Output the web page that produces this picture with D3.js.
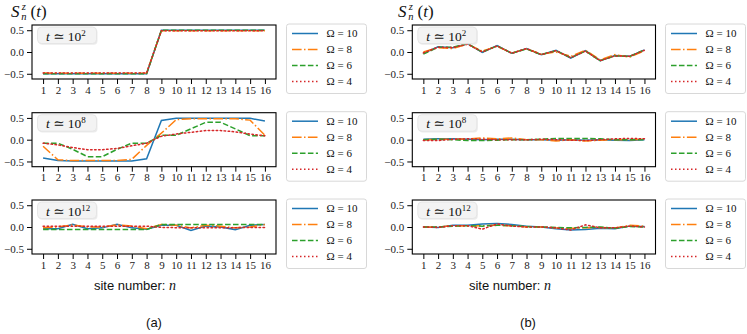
<!DOCTYPE html>
<html><head><meta charset="utf-8">
<script src="https://cdn.jsdelivr.net/npm/d3@7"></script>
<style>
body{margin:0;background:#fff;}
svg{display:block;}
</style></head>
<body><svg id="c" width="747" height="334"></svg>
<script>
// ---------------- data ----------------
const sites = [1,2,3,4,5,6,7,8,9,10,11,12,13,14,15,16];
const yTicks = [-0.5, 0.0, 0.5];
const yTickLabels = ["\u22120.5", "0.0", "0.5"];
const omegaLabels = ["10", "8", "6", "4"];
const timeExponents = ["2", "8", "12"];
const panelLetters = ["(a)", "(b)"];

// panel (a): rows t≈10^2, 10^8, 10^12 ; series Ω=10, 8, 6, 4
const a_t2 = [
  [-0.5,-0.5,-0.5,-0.5,-0.5,-0.5,-0.5,-0.5,0.5,0.5,0.5,0.5,0.5,0.5,0.5,0.5],
  [-0.48,-0.49,-0.49,-0.49,-0.49,-0.49,-0.49,-0.48,0.49,0.49,0.49,0.49,0.49,0.49,0.49,0.49],
  [-0.5,-0.5,-0.5,-0.5,-0.5,-0.5,-0.5,-0.5,0.5,0.5,0.5,0.5,0.5,0.5,0.5,0.5],
  [-0.48,-0.48,-0.48,-0.48,-0.48,-0.48,-0.48,-0.48,0.49,0.49,0.49,0.49,0.49,0.49,0.49,0.49]
];
const a_t8 = [
  [-0.42,-0.48,-0.49,-0.49,-0.49,-0.49,-0.49,-0.44,0.44,0.49,0.49,0.49,0.49,0.49,0.49,0.43],
  [-0.15,-0.46,-0.48,-0.48,-0.48,-0.48,-0.45,-0.13,0.15,0.46,0.48,0.48,0.48,0.48,0.45,0.1],
  [-0.08,-0.08,-0.22,-0.39,-0.39,-0.22,-0.08,-0.08,0.1,0.1,0.25,0.4,0.4,0.25,0.09,0.09],
  [-0.08,-0.12,-0.18,-0.23,-0.23,-0.2,-0.14,-0.08,0.08,0.13,0.17,0.21,0.21,0.18,0.13,0.09]
];
const a_t12 = [
  [-0.04,-0.04,0.06,-0.04,-0.02,0.06,-0.02,-0.05,0.04,0.04,-0.08,0.02,0.0,-0.06,0.04,0.06],
  [-0.02,0.0,0.05,0.0,0.0,0.05,0.02,-0.04,0.06,0.04,-0.02,0.04,0.02,-0.02,0.0,0.06],
  [-0.06,-0.06,-0.06,-0.06,-0.06,-0.06,-0.06,-0.06,0.06,0.06,0.06,0.06,0.06,0.06,0.06,0.06],
  [0.02,0.02,0.02,0.02,0.02,0.02,0.02,0.02,-0.01,-0.015,-0.015,-0.015,-0.015,-0.015,-0.01,-0.01]
];
// panel (b)
const b_t2 = [
  [-0.03,0.12,0.1,0.19,-0.01,0.15,-0.03,0.08,-0.06,0.04,-0.14,0.03,-0.2,-0.08,-0.1,0.05],
  [0.0,0.1,0.08,0.18,0.02,0.13,-0.02,0.07,-0.05,0.0,-0.1,0.04,-0.18,-0.06,-0.12,0.03],
  [-0.05,0.11,0.11,0.19,0.0,0.14,-0.03,0.07,-0.06,0.03,-0.13,0.02,-0.2,-0.09,-0.1,0.05],
  [-0.02,0.11,0.1,0.18,0.0,0.14,-0.03,0.08,-0.06,0.03,-0.13,0.02,-0.2,-0.09,-0.1,0.04]
];
const b_t8 = [
  [0.01,0.02,0.02,0.01,0.0,0.01,0.01,0.0,0.0,-0.01,0.0,-0.01,0.0,-0.01,-0.02,0.0],
  [0.0,0.01,0.01,0.02,0.04,0.02,0.04,0.0,0.0,-0.03,0.0,-0.03,-0.01,0.0,0.0,0.01],
  [0.0,0.01,0.0,-0.02,-0.02,-0.01,0.0,0.0,0.01,0.03,0.03,0.03,0.02,0.0,0.0,0.0],
  [-0.02,-0.02,0.01,0.02,0.01,0.0,0.0,0.0,0.01,0.0,-0.01,-0.02,0.0,0.02,0.03,0.02]
];
const b_t12 = [
  [0.0,-0.01,0.04,0.04,0.07,0.08,0.06,0.02,0.0,-0.04,-0.07,-0.06,-0.03,-0.04,0.02,0.01],
  [0.0,0.0,0.03,0.02,0.03,0.04,0.03,0.0,0.0,-0.02,-0.03,-0.02,-0.01,-0.02,0.04,0.02],
  [0.0,0.0,0.02,0.03,0.02,0.04,0.03,0.01,0.0,-0.01,-0.02,-0.01,0.0,-0.03,0.01,0.0],
  [0.0,-0.01,0.03,0.03,-0.05,0.07,0.02,0.0,0.0,-0.02,-0.07,0.05,-0.02,-0.02,0.02,0.0]
];

// ---------------- style ----------------
const colors = ["#1f77b4","#ff7f0e","#2ca02c","#d62728"];
const dashes = [null, "9.6,2.4,1.5,2.4", "5.55,2.4", "1.5,2.5"];
const serif = "Liberation Serif, DejaVu Serif, serif";
const sans = "Liberation Sans, DejaVu Sans, sans-serif";

const svg = d3.select("#c");
const columns = [
  {x0: 32, x1: 276, data: [a_t2, a_t8, a_t12], legendX: 286.5, ylabX: 11, xlabX: 135, letterX: 154},
  {x0: 412.3, x1: 655.5, data: [b_t2, b_t8, b_t12], legendX: 665.5, ylabX: 398, xlabX: 510, letterX: 528}
];
const rowTops = [25, 112.7, 200];
const panelH = 54;

columns.forEach((col, ci) => {
  const x = d3.scaleLinear().domain([0.25, 16.75]).range([col.x0, col.x1]);
  rowTops.forEach((top, ri) => {
    const y = d3.scaleLinear().domain([-0.62, 0.62]).range([top + panelH, top]);
    const g = svg.append("g");
    const line = d3.line().x((d, i) => x(sites[i])).y(d => y(d));
    col.data[ri].forEach((series, si) => {
      g.append("path").datum(series)
        .attr("d", line).attr("fill", "none")
        .attr("stroke", colors[si]).attr("stroke-width", 1.5)
        .attr("stroke-dasharray", dashes[si])
        .attr("stroke-linecap", si === 3 ? "round" : "butt");
    });
    g.append("rect").attr("x", col.x0).attr("y", top)
      .attr("width", col.x1 - col.x0).attr("height", panelH)
      .attr("fill", "none").attr("stroke", "#000").attr("stroke-width", 1.1);
    const xa = g.append("g").attr("transform", `translate(0,${top + panelH})`)
      .call(d3.axisBottom(x).tickValues(sites).tickSize(5).tickPadding(2).tickFormat(d3.format("d")));
    xa.attr("font-family", serif).attr("font-size", 11);
    xa.select(".domain").remove();
    xa.selectAll("text").attr("fill", "#222");
    xa.selectAll("line").attr("stroke-width", 1);
    const ya = g.append("g").attr("transform", `translate(${col.x0},0)`)
      .call(d3.axisLeft(y).tickValues(yTicks).tickSize(5).tickPadding(3)
        .tickFormat((d, i) => yTickLabels[i]));
    ya.attr("font-family", serif).attr("font-size", 11);
    ya.select(".domain").remove();
    ya.selectAll("text").attr("fill", "#222");
    ya.selectAll("line").attr("stroke-width", 1);

    const lb = g.append("g").attr("transform", `translate(${col.x0 + 5.5},${top + 2})`);
    lb.append("rect").attr("x", 1).attr("y", 1.2).attr("width", 59).attr("height", 16.5)
      .attr("rx", 4).attr("fill", "#d8d8d8").attr("opacity", 0.5);
    lb.append("rect").attr("x", 0).attr("y", 0).attr("width", 59).attr("height", 16.5)
      .attr("rx", 4).attr("fill", "#f3f3f3").attr("stroke", "#e2e2e2").attr("stroke-width", 0.8);
    const tt = lb.append("text").attr("x", 8.5).attr("y", 13.5)
      .attr("font-family", serif).attr("font-size", 13.5).attr("fill", "#111");
    tt.append("tspan").attr("font-style", "italic").text("t");
    tt.append("tspan").text(" \u2243 10");
    tt.append("tspan").attr("font-size", 9).attr("dy", -5).text(timeExponents[ri]);

    const lg = svg.append("g").attr("transform", `translate(${col.legendX},${top - 1})`);
    lg.append("rect").attr("x", 0).attr("y", 0).attr("width", 80).attr("height", 69.5)
      .attr("rx", 2.5).attr("fill", "#fff").attr("stroke", "#d4d4d4").attr("stroke-width", 0.9);
    omegaLabels.forEach((lab, si) => {
      const yy = 9.5 + si * 16;
      lg.append("line").attr("x1", 5.5).attr("x2", 31.5).attr("y1", yy).attr("y2", yy)
        .attr("stroke", colors[si]).attr("stroke-width", 1.5)
        .attr("stroke-dasharray", dashes[si]);
      lg.append("text").attr("x", 40).attr("y", yy + 3.8)
        .attr("font-family", serif).attr("font-size", 11).attr("fill", "#111")
        .text("\u03A9 = " + lab);
    });
  });

  const yl = svg.append("g").attr("fill", "#111").attr("font-family", serif);
  yl.append("text").attr("x", col.ylabX).attr("y", 16.5).attr("font-size", 17)
    .attr("font-style", "italic").text("S");
  yl.append("text").attr("x", col.ylabX + 10.8).attr("y", 9.5).attr("font-size", 10.5)
    .attr("font-style", "italic").text("z");
  yl.append("text").attr("x", col.ylabX + 10.3).attr("y", 20).attr("font-size", 10.5)
    .attr("font-style", "italic").text("n");
  const pt = yl.append("text").attr("x", col.ylabX + 19.5).attr("y", 16.5).attr("font-size", 17);
  pt.append("tspan").text("(");
  pt.append("tspan").attr("font-style", "italic").text("t");
  pt.append("tspan").text(")");

  const xl = svg.append("text").attr("x", col.xlabX).attr("y", 289.5).attr("text-anchor", "middle")
    .attr("font-family", sans).attr("font-size", 13).attr("fill", "#111");
  xl.append("tspan").text("site number: ");
  xl.append("tspan").attr("font-family", serif).attr("font-style", "italic").attr("font-size", 14).text("n");

  svg.append("text").attr("x", col.letterX).attr("y", 327).attr("text-anchor", "middle")
    .attr("font-family", sans).attr("font-size", 13).attr("fill", "#111").text(panelLetters[ci]);
});
</script></body></html>
